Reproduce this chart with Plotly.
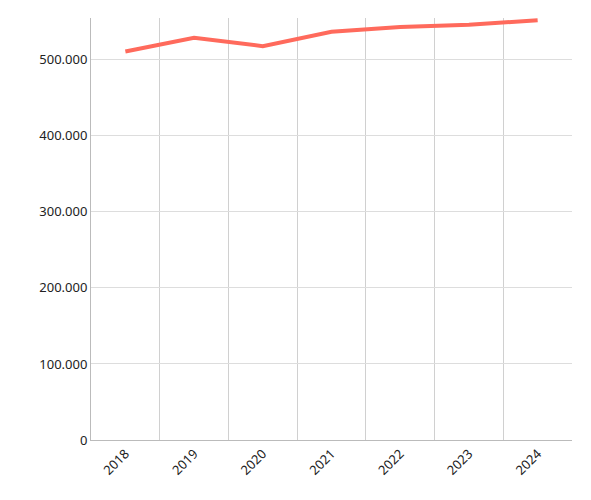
import plotly.graph_objs as go

years = ["2018", "2019", "2020", "2021", "2022", "2023", "2024"]
values = [511000, 529000, 518000, 537000, 543000, 546000, 552000]
y_ticks = [0, 100000, 200000, 300000, 400000, 500000]

fig = go.Figure()
fig.add_trace(go.Scatter(x=years, y=values, mode="lines",
                         line=dict(color="#ff6a5c", width=4)))

fig.update_layout(
    width=591, height=500,
    margin=dict(l=83, r=27, t=10, b=68),
    plot_bgcolor="white", paper_bgcolor="white",
    font=dict(family="Noto Sans", size=13, color="#222"),
    separators=",.",
    showlegend=False,
)
fig.update_xaxes(type="category", tickson="boundaries", showgrid=True,
                 gridcolor="#d0d0d0", tickangle=-45, showline=True,
                 linecolor="#bbbbbb", ticks="", range=[-0.5, 6.5])
fig.update_yaxes(range=[0, 555000], tickvals=y_ticks, tickformat=",d",
                 showgrid=True, gridcolor="#dddddd", showline=True,
                 linecolor="#bbbbbb", zeroline=False, ticks="")

fig.write_html("out.html")
